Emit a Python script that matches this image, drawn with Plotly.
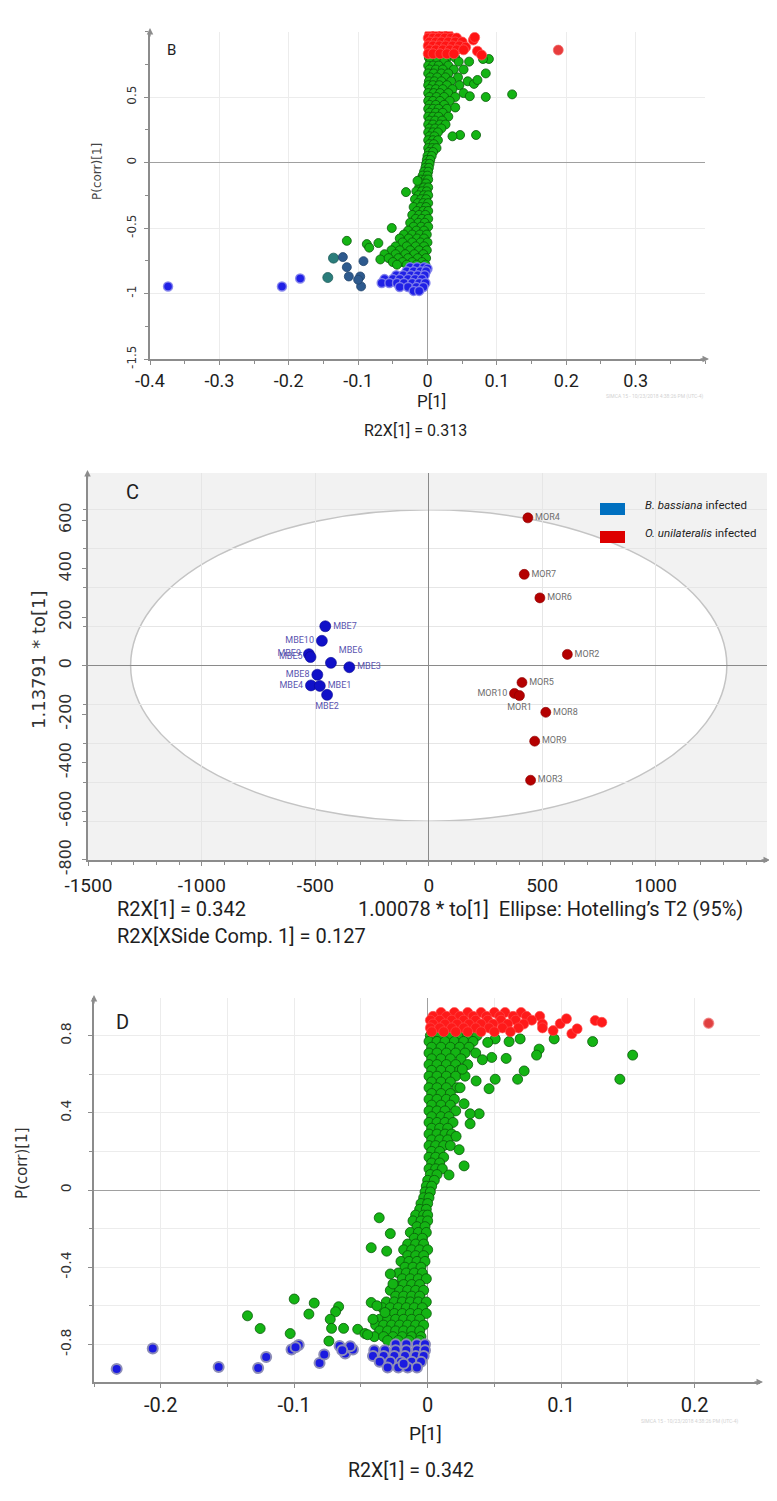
import plotly.graph_objects as go

# The page body adds an 8px margin, so the figure is sized to fill the rest of the window
OFF = 8
W, H = 777 - OFF, 1501 - OFF
def fx(px): return (px - OFF) / W
def fy(py): return 1 - (py - OFF) / H

# ---------------- Panel B data: (P[1], P(corr)[1]) ----------------
b_green = [
 (0.002,0.80),(0.010,0.80),(0.018,0.80),(0.028,0.80),(0.040,0.80),
 (0.004,0.77),(0.014,0.77),(0.024,0.77),(0.045,0.77),(0.060,0.77),
 (0.001,0.74),(0.008,0.74),(0.016,0.74),(0.030,0.74),
 (0.003,0.71),(0.012,0.71),(0.022,0.71),(0.038,0.71),(0.052,0.71),
 (0.001,0.68),(0.009,0.68),(0.020,0.68),(0.030,0.68),
 (0.004,0.65),(0.014,0.65),(0.026,0.65),(0.044,0.65),
 (0.002,0.62),(0.010,0.62),(0.020,0.62),(0.034,0.62),(0.058,0.62),
 (0.001,0.59),(0.008,0.59),(0.017,0.59),(0.028,0.59),(0.046,0.59),
 (0.003,0.56),(0.012,0.56),(0.022,0.56),(0.036,0.56),
 (0.001,0.53),(0.009,0.53),(0.018,0.53),(0.030,0.53),(0.052,0.53),
 (0.003,0.50),(0.013,0.50),(0.024,0.50),(0.040,0.50),
 (0.001,0.47),(0.008,0.47),(0.018,0.47),(0.032,0.47),
 (0.003,0.44),(0.012,0.44),(0.024,0.44),
 (0.001,0.41),(0.008,0.41),(0.016,0.41),(0.028,0.41),
 (0.003,0.38),(0.012,0.38),(0.022,0.38),
 (0.001,0.35),(0.008,0.35),(0.016,0.35),(0.030,0.35),
 (0.003,0.32),(0.011,0.32),(0.021,0.32),
 (0.001,0.29),(0.008,0.29),(0.018,0.29),(0.026,0.29),
 (0.003,0.26),(0.011,0.26),(0.020,0.26),
 (0.001,0.23),(0.008,0.23),(0.015,0.23),
 (0.003,0.20),(0.010,0.20),
 (0.001,0.17),(0.008,0.17),(0.015,0.17),
 (0.003,0.14),(0.009,0.14),
 (0.001,0.11),(0.007,0.11),(0.013,0.11),
 (0.002,0.08),(0.008,0.08),
 (0.000,0.05),(0.006,0.05),
 (-0.001,0.02),(0.004,0.02),
 (-0.002,-0.01),(0.003,-0.01),
 (-0.003,-0.04),(0.002,-0.04),
 (-0.005,-0.07),(0.001,-0.07),
 (-0.007,-0.10),(0.000,-0.10),
 (-0.010,-0.13),(-0.003,-0.13),(0.001,-0.13),
 (-0.008,-0.16),(-0.002,-0.16),
 (-0.012,-0.19),(-0.005,-0.19),(0.001,-0.19),
 (-0.016,-0.22),(-0.008,-0.22),(-0.001,-0.22),
 (-0.013,-0.25),(-0.005,-0.25),(0.001,-0.25),
 (-0.018,-0.28),(-0.009,-0.28),(-0.002,-0.28),
 (-0.014,-0.31),(-0.006,-0.31),(0.001,-0.31),
 (-0.020,-0.34),(-0.010,-0.34),(-0.002,-0.34),
 (-0.015,-0.37),(-0.006,-0.37),(0.001,-0.37),
 (-0.022,-0.40),(-0.012,-0.40),(-0.003,-0.40),
 (-0.017,-0.43),(-0.008,-0.43),(0.001,-0.43),
 (-0.025,-0.46),(-0.013,-0.46),(-0.004,-0.46),
 (-0.020,-0.49),(-0.009,-0.49),(0.001,-0.49),
 (-0.028,-0.52),(-0.016,-0.52),(-0.005,-0.52),
 (-0.034,-0.55),(-0.022,-0.55),(-0.011,-0.55),(-0.001,-0.55),
 (-0.040,-0.58),(-0.027,-0.58),(-0.015,-0.58),(-0.005,-0.58),
 (-0.036,-0.61),(-0.022,-0.61),(-0.010,-0.61),(0.000,-0.61),
 (-0.046,-0.64),(-0.030,-0.64),(-0.017,-0.64),(-0.005,-0.64),
 (-0.052,-0.67),(-0.040,-0.67),(-0.025,-0.67),(-0.012,-0.67),(-0.001,-0.67),
 (-0.062,-0.70),(-0.046,-0.70),(-0.032,-0.70),(-0.019,-0.70),(-0.006,-0.70),
 (-0.068,-0.74),(-0.056,-0.73),(-0.042,-0.73),(-0.028,-0.73),(-0.014,-0.73),(-0.002,-0.73),
 (-0.050,-0.76),(-0.036,-0.76),(-0.022,-0.76),(-0.008,-0.76),
 (-0.044,-0.78),(-0.030,-0.78),(-0.016,-0.78),(-0.003,-0.78),
 (0.0885,0.79),(0.080,0.79),(0.084,0.68),(0.122,0.52),(0.084,0.50),(0.061,0.506),
 (0.067,0.60),(0.072,0.63),(0.047,0.21),(0.070,0.21),(0.036,0.20),(0.040,0.42),
 (-0.1163,-0.598),(-0.0875,-0.623),(-0.084,-0.65),(-0.0708,-0.615),(-0.0515,-0.50),
 (-0.031,-0.226),(-0.0144,-0.14),
]
b_red = [
 (0.003,0.98),(0.012,0.98),(0.022,0.98),(0.030,0.98),
 (0.001,0.95),(0.008,0.95),(0.016,0.95),(0.025,0.95),(0.034,0.95),(0.042,0.95),
 (0.003,0.92),(0.012,0.92),(0.020,0.92),(0.030,0.92),(0.040,0.92),(0.050,0.92),(0.066,0.935),
 (0.001,0.89),(0.008,0.89),(0.017,0.89),(0.026,0.89),(0.036,0.89),(0.046,0.89),(0.055,0.88),
 (0.003,0.86),(0.012,0.86),(0.022,0.86),(0.032,0.86),(0.042,0.86),(0.052,0.86),(0.072,0.85),
 (0.001,0.83),(0.008,0.83),(0.018,0.83),(0.028,0.83),(0.038,0.83),(0.078,0.82),
 (0.068,0.955),
]
b_red_far = [(0.1885, 0.858)]
b_blue = [
 (-0.374,-0.946),(-0.2098,-0.946),(-0.1835,-0.885),
 (-0.025,-0.80),(-0.015,-0.80),(-0.005,-0.80),(0.000,-0.81),
 (-0.030,-0.83),(-0.020,-0.83),(-0.010,-0.83),(-0.002,-0.83),
 (-0.045,-0.86),(-0.035,-0.86),(-0.024,-0.86),(-0.014,-0.86),(-0.004,-0.86),
 (-0.062,-0.89),(-0.050,-0.89),(-0.040,-0.89),(-0.028,-0.89),(-0.018,-0.89),(-0.008,-0.89),
 (-0.066,-0.92),(-0.055,-0.92),(-0.044,-0.92),(-0.034,-0.92),(-0.022,-0.92),(-0.012,-0.92),(-0.003,-0.92),
 (-0.040,-0.95),(-0.028,-0.95),(-0.016,-0.95),(-0.006,-0.95),
 (-0.020,-0.98),(-0.012,-0.98),
]
b_teal = [(-0.1437,-0.878),(-0.1355,-0.730)]
b_slate = [(-0.122,-0.722),(-0.1163,-0.799),(-0.1134,-0.870),(-0.097,-0.870),
           (-0.0923,-0.753),(-0.0957,-0.946),(-0.100,-0.895)]
b_xticks = [-0.4,-0.3,-0.2,-0.1,0,0.1,0.2,0.3]
b_xticktext = ["-0.4","-0.3","-0.2","-0.1","0","0.1","0.2","0.3"]
b_yticks = [-1.5,-1,-0.5,0,0.5]
b_yticktext = ["-1.5","-1","-0.5","0","0.5"]

# ---------------- Panel C data: scores ----------------
c_bb_names = ["MBE7","MBE10","MBE9","MBE5","MBE6","MBE3","MBE8","MBE4","MBE1","MBE2"]
c_bb_x = [-456,-471,-528,-521,-431,-350,-491,-519,-480,-448]
c_bb_y = [162,102,47,35,11,-7,-38,-82,-84,-121]
c_ou_names = ["MOR4","MOR7","MOR6","MOR2","MOR5","MOR10","MOR1","MOR8","MOR9","MOR3"]
c_ou_x = [437,421,490,611,411,378,400,516,467,449]
c_ou_y = [609,376,279,46,-70,-115,-124,-193,-312,-473]
c_ellipse_a = 1314
c_ellipse_b = 642
c_xticks = [-1500,-1000,-500,0,500,1000]
c_xticktext = ["-1500","-1000","-500","0","500","1000"]
c_yticks = [-800,-600,-400,-200,0,200,400,600]
c_yticktext = ["-800","-600","-400","-200","0","200","400","600"]
c_groups = ["B. bassiana", "O. unilateralis"]

# ---------------- Panel D data ----------------
d_green = [
 (0.002,0.80),(0.009,0.80),(0.016,0.80),(0.023,0.80),(0.030,0.80),(0.037,0.80),
 (0.001,0.77),(0.007,0.77),(0.013,0.77),(0.020,0.77),(0.027,0.77),(0.034,0.77),
 (0.003,0.74),(0.010,0.74),(0.017,0.74),(0.024,0.74),(0.031,0.74),
 (0.001,0.71),(0.007,0.71),(0.014,0.71),(0.021,0.71),(0.028,0.71),(0.036,0.71),
 (0.003,0.68),(0.010,0.68),(0.017,0.68),(0.025,0.68),
 (0.001,0.65),(0.007,0.65),(0.014,0.65),(0.021,0.65),(0.030,0.65),
 (0.003,0.62),(0.010,0.62),(0.017,0.62),(0.024,0.62),
 (0.001,0.59),(0.007,0.59),(0.014,0.59),(0.021,0.59),(0.028,0.59),
 (0.003,0.56),(0.010,0.56),(0.017,0.56),
 (0.001,0.53),(0.007,0.53),(0.014,0.53),(0.022,0.53),
 (0.003,0.50),(0.010,0.50),(0.017,0.50),
 (0.001,0.47),(0.007,0.47),(0.014,0.47),(0.020,0.47),
 (0.003,0.44),(0.010,0.44),(0.017,0.44),
 (0.001,0.41),(0.007,0.41),(0.013,0.41),(0.021,0.41),
 (0.003,0.38),(0.010,0.38),(0.016,0.38),
 (0.001,0.35),(0.007,0.35),(0.013,0.35),(0.019,0.35),
 (0.003,0.32),(0.009,0.32),(0.015,0.32),
 (0.001,0.29),(0.007,0.29),(0.013,0.29),(0.018,0.29),
 (0.003,0.26),(0.009,0.26),(0.015,0.26),
 (0.001,0.23),(0.006,0.23),(0.012,0.23),(0.017,0.23),
 (0.003,0.20),(0.009,0.20),
 (0.001,0.17),(0.006,0.17),(0.012,0.17),
 (0.003,0.14),(0.009,0.14),
 (0.001,0.11),(0.006,0.11),(0.011,0.11),
 (0.002,0.08),(0.007,0.08),
 (0.000,0.05),(0.005,0.05),
 (-0.001,0.02),(0.003,0.02),
 (-0.002,-0.01),(0.002,-0.01),
 (-0.003,-0.04),(0.001,-0.04),
 (-0.005,-0.07),(0.000,-0.07),
 (-0.006,-0.10),(-0.001,-0.10),
 (-0.009,-0.13),(-0.003,-0.13),(0.000,-0.13),
 (-0.011,-0.16),(-0.005,-0.16),(0.000,-0.16),
 (-0.008,-0.19),(-0.002,-0.19),
 (-0.013,-0.22),(-0.007,-0.22),(-0.001,-0.22),
 (-0.010,-0.25),(-0.004,-0.25),
 (-0.015,-0.28),(-0.009,-0.28),(-0.003,-0.28),
 (-0.018,-0.31),(-0.012,-0.31),(-0.006,-0.31),(0.000,-0.31),
 (-0.015,-0.34),(-0.009,-0.34),(-0.003,-0.34),
 (-0.020,-0.37),(-0.014,-0.37),(-0.008,-0.37),(-0.002,-0.37),
 (-0.017,-0.40),(-0.011,-0.40),(-0.005,-0.40),
 (-0.022,-0.43),(-0.016,-0.43),(-0.010,-0.43),(-0.004,-0.43),
 (-0.019,-0.46),(-0.013,-0.46),(-0.007,-0.46),(-0.001,-0.46),
 (-0.025,-0.49),(-0.018,-0.49),(-0.012,-0.49),(-0.006,-0.49),
 (-0.028,-0.52),(-0.021,-0.52),(-0.015,-0.52),(-0.009,-0.52),(-0.003,-0.52),
 (-0.024,-0.55),(-0.018,-0.55),(-0.012,-0.55),(-0.006,-0.55),
 (-0.031,-0.58),(-0.025,-0.58),(-0.019,-0.58),(-0.013,-0.58),(-0.007,-0.58),(-0.001,-0.58),
 (-0.034,-0.61),(-0.028,-0.61),(-0.022,-0.61),(-0.016,-0.61),(-0.010,-0.61),(-0.004,-0.61),
 (-0.031,-0.64),(-0.025,-0.64),(-0.019,-0.64),(-0.013,-0.64),(-0.007,-0.64),(-0.001,-0.64),
 (-0.036,-0.67),(-0.030,-0.67),(-0.024,-0.67),(-0.018,-0.67),(-0.012,-0.67),(-0.006,-0.67),
 (-0.039,-0.70),(-0.033,-0.70),(-0.027,-0.70),(-0.021,-0.70),(-0.015,-0.70),(-0.009,-0.70),(-0.003,-0.70),
 (-0.036,-0.73),(-0.030,-0.73),(-0.024,-0.73),(-0.018,-0.73),(-0.012,-0.73),(-0.006,-0.73),
 (-0.040,-0.76),(-0.033,-0.76),(-0.026,-0.76),(-0.019,-0.76),(-0.012,-0.76),(-0.005,-0.76),
 (-0.030,-0.78),(-0.022,-0.78),(-0.014,-0.78),(-0.006,-0.78),
 (-0.135,-0.652),(-0.1255,-0.718),(-0.100,-0.565),(-0.085,-0.586),(-0.089,-0.643),
 (-0.103,-0.744),(-0.074,-0.783),(-0.0667,-0.605),(-0.069,-0.631),(-0.073,-0.670),
 (-0.072,-0.717),(-0.063,-0.717),(-0.0524,-0.722),(-0.047,-0.744),(-0.0423,-0.583),
 (-0.0363,-0.144),(-0.0423,-0.299),(-0.0307,-0.317),(-0.028,-0.226),(-0.028,-0.435),
 (-0.026,-0.487),(-0.041,-0.67),(-0.032,-0.635),(-0.038,-0.60),(-0.045,-0.75),
 (0.1536,0.699),(0.144,0.574),(0.1236,0.769),(0.0948,0.783),(0.0835,0.730),
 (0.0816,0.699),(0.0723,0.617),(0.0674,0.574),(0.0693,0.783),(0.061,0.769),
 (0.0588,0.682),(0.0506,0.574),(0.046,0.525),(0.048,0.687),(0.041,0.675),
 (0.0363,0.565),(0.0386,0.395),(0.0318,0.395),(0.0318,0.343),(0.0273,0.447),
 (0.0273,0.125),(0.0236,0.209),(0.0213,0.278),(0.016,0.078),(0.0243,0.530),
 (0.026,0.626),(0.0506,0.783),(0.045,0.765),
]
d_red = [
 (0.010,0.92),(0.020,0.92),(0.030,0.92),(0.040,0.92),(0.050,0.92),(0.058,0.92),(0.070,0.92),
 (0.004,0.90),(0.014,0.90),(0.024,0.90),(0.034,0.90),(0.044,0.90),(0.054,0.90),(0.064,0.90),(0.074,0.90),(0.084,0.90),
 (0.002,0.88),(0.009,0.88),(0.018,0.88),(0.027,0.88),(0.036,0.88),(0.045,0.88),(0.055,0.88),(0.066,0.88),(0.078,0.88),
 (0.004,0.86),(0.013,0.86),(0.022,0.86),(0.031,0.86),(0.040,0.86),(0.049,0.86),(0.060,0.86),(0.072,0.86),(0.086,0.86),
 (0.002,0.84),(0.009,0.84),(0.018,0.84),(0.027,0.84),(0.036,0.84),(0.046,0.84),(0.056,0.84),(0.068,0.84),
 (0.003,0.82),(0.012,0.82),(0.021,0.82),(0.030,0.82),(0.040,0.82),(0.050,0.82),(0.062,0.82),
 (0.094,0.826),(0.0993,0.862),(0.104,0.887),(0.108,0.81),(0.1255,0.878),(0.1305,0.869),
 (0.112,0.835),(0.086,0.84),
]
d_red_far = [(0.2105, 0.864)]
d_blue = [
 (-0.233,-0.927),(-0.206,-0.821),(-0.1566,-0.917),(-0.127,-0.923),(-0.121,-0.866),
 (-0.102,-0.826),(-0.0966,-0.803),(-0.099,-0.815),(-0.081,-0.896),(-0.0775,-0.852),
 (-0.066,-0.809),(-0.0618,-0.847),(-0.056,-0.826),(-0.058,-0.81),(-0.064,-0.83),
 (-0.024,-0.80),(-0.016,-0.80),(-0.008,-0.80),(-0.002,-0.80),
 (-0.040,-0.83),(-0.032,-0.83),(-0.024,-0.83),(-0.016,-0.83),(-0.008,-0.83),(-0.002,-0.83),
 (-0.041,-0.86),(-0.033,-0.86),(-0.025,-0.86),(-0.017,-0.86),(-0.009,-0.86),(-0.003,-0.86),
 (-0.036,-0.89),(-0.028,-0.89),(-0.020,-0.89),(-0.012,-0.89),(-0.005,-0.89),
 (-0.030,-0.92),(-0.022,-0.92),(-0.015,-0.92),(-0.008,-0.92),(-0.018,-0.90),
]
d_xticks = [-0.2,-0.1,0,0.1,0.2]
d_xticktext = ["-0.2","-0.1","0","0.1","0.2"]
d_yticks = [-0.8,-0.4,0,0.4,0.8]
d_yticktext = ["-0.8","-0.4","0","0.4","0.8"]

def xs(pts): return [p[0] for p in pts]
def ys(pts): return [p[1] for p in pts]

GREEN = dict(color="#14b414", line=dict(color="#0a5a0a", width=0.8))
fig = go.Figure()

# ---- B traces ----
fig.add_trace(go.Scatter(x=xs(b_green), y=ys(b_green), mode="markers", xaxis="x", yaxis="y",
    marker=dict(size=9, **GREEN)))
fig.add_trace(go.Scatter(x=xs(b_teal), y=ys(b_teal), mode="markers", xaxis="x", yaxis="y",
    marker=dict(size=10, color="#2b7d7b", line=dict(color="#1f5e5c", width=0.8))))
fig.add_trace(go.Scatter(x=xs(b_slate), y=ys(b_slate), mode="markers", xaxis="x", yaxis="y",
    marker=dict(size=9, color="#2e5a8e", line=dict(color="#23466e", width=0.8))))
fig.add_trace(go.Scatter(x=xs(b_red), y=ys(b_red), mode="markers", xaxis="x", yaxis="y",
    marker=dict(size=10, color="#ff1414", line=dict(color="rgba(255,90,90,0.7)", width=1))))
fig.add_trace(go.Scatter(x=xs(b_red_far), y=ys(b_red_far), mode="markers", xaxis="x", yaxis="y",
    marker=dict(size=10, color="#e83c3c", line=dict(color="rgba(240,110,110,0.7)", width=1))))
fig.add_trace(go.Scatter(x=xs(b_blue), y=ys(b_blue), mode="markers", xaxis="x", yaxis="y",
    marker=dict(size=9, color="#2020e6", line=dict(color="rgba(130,130,235,0.9)", width=1.5))))

# ---- C traces ----
fig.add_trace(go.Scatter(x=c_bb_x, y=c_bb_y, mode="markers+text", xaxis="x2", yaxis="y2",
    text=c_bb_names,
    textposition=["middle right","middle left","middle left","middle left","top right",
                  "middle right","middle left","middle left","middle right","bottom center"],
    textfont=dict(family="Roboto, sans-serif", size=9, color="#5a55b0"),
    marker=dict(size=11, color="#1010c8", line=dict(color="#0a0a90", width=0.6))))
fig.add_trace(go.Scatter(x=c_ou_x, y=c_ou_y, mode="markers+text", xaxis="x2", yaxis="y2",
    text=c_ou_names,
    textposition=["middle right","middle right","middle right","middle right","middle right",
                  "middle left","bottom center","middle right","middle right","middle right"],
    textfont=dict(family="Roboto, sans-serif", size=9, color="#6e6e6e"),
    marker=dict(size=10, color="#b40000", line=dict(color="#8a0000", width=0.6))))

# ---- D traces ----
fig.add_trace(go.Scatter(x=xs(d_green), y=ys(d_green), mode="markers", xaxis="x3", yaxis="y3",
    marker=dict(size=10, **GREEN)))
fig.add_trace(go.Scatter(x=xs(d_red), y=ys(d_red), mode="markers", xaxis="x3", yaxis="y3",
    marker=dict(size=10, color="#ff1a1a", line=dict(color="rgba(255,80,80,0.6)", width=1))))
fig.add_trace(go.Scatter(x=xs(d_red_far), y=ys(d_red_far), mode="markers", xaxis="x3", yaxis="y3",
    marker=dict(size=10, color="#e04040", line=dict(color="rgba(240,120,120,0.7)", width=1.5))))
fig.add_trace(go.Scatter(x=xs(d_blue), y=ys(d_blue), mode="markers", xaxis="x3", yaxis="y3",
    marker=dict(size=10, color="#1b1be0", line=dict(color="#8d8db8", width=2))))

AXC = "#8c8c8c"
GRID = "#ececec"
XFONT = dict(family="Roboto, Liberation Sans, sans-serif", color="#1e1e1e")
YFONT = dict(family="DejaVu Sans, sans-serif", color="#333333")

def xax(domain, anchor, rng, tv, tt, size, minor, standoff, grid_minor=False):
    return dict(domain=domain, anchor=anchor, range=rng, tickmode="array", tickvals=tv, ticktext=tt,
                tickfont=dict(size=size, **XFONT), showgrid=True, gridcolor=GRID, gridwidth=1,
                zeroline=True, zerolinecolor="#a0a0a0", zerolinewidth=1.2, automargin=False,
                showline=True, linecolor=AXC, linewidth=1.5, ticks="outside", ticklen=4,
                tickcolor=AXC, ticklabelstandoff=standoff,
                minor=dict(tickmode="linear", tick0=0, dtick=minor, ticks="outside", ticklen=3,
                           tickcolor=AXC, showgrid=grid_minor, gridcolor=GRID),
                fixedrange=True)

def yax(domain, anchor, rng, tv, tt, size, minor, standoff, grid_major=True, grid_minor=False):
    return dict(domain=domain, anchor=anchor, range=rng, tickmode="array", tickvals=tv, ticktext=tt,
                tickangle=-90, tickfont=dict(size=size, **YFONT), showgrid=grid_major,
                gridcolor=GRID, gridwidth=1, automargin=False,
                zeroline=True, zerolinecolor="#a0a0a0", zerolinewidth=1.2,
                showline=True, linecolor=AXC, linewidth=1.5, ticks="outside", ticklen=4,
                tickcolor=AXC, ticklabelstandoff=standoff,
                minor=dict(tickmode="linear", tick0=0, dtick=minor, ticks="outside", ticklen=3,
                           tickcolor=AXC, showgrid=grid_minor, gridcolor=GRID),
                fixedrange=True)

layout = dict(
    width=W, height=H, autosize=False, showlegend=False,
    margin=dict(l=0, r=0, t=0, b=0, pad=0, autoexpand=False),
    paper_bgcolor="white", plot_bgcolor="white",
    xaxis=xax([fx(150), fx(705)], "y", [-0.4, 0.4], b_xticks, b_xticktext, 18, 0.05, 1),
    yaxis=yax([fy(359), fy(31.5)], "x", [-1.5, 1.0], b_yticks, b_yticktext, 12, 0.25, 3),
    xaxis2=xax([fx(87.5), fx(767)], "y2", [-1504, 1491], c_xticks, c_xticktext, 19, 100, 3),
    yaxis2=yax([fy(860), fy(473)], "x2", [-802, 794], c_yticks, c_yticktext, 16, 160.5, 4,
               grid_major=False, grid_minor=True),
    xaxis3=xax([fx(94), fx(760)], "y3", [-0.25, 0.249], d_xticks, d_xticktext, 20, 0.05, 0,
               grid_minor=True),
    yaxis3=yax([fy(1382), fy(998)], "x3", [-0.995, 0.995], d_yticks, d_yticktext, 14, 0.2, 12,
               grid_minor=True),
)
fig.update_layout(**layout)
fig.update_layout(yaxis2=dict(minor=dict(gridcolor="#e6e6e6")),
                  xaxis2=dict(gridcolor="#e6e6e6", zerolinecolor="#8a8a8a"),
                  yaxis2_zerolinecolor="#8a8a8a")

# Panel C background and Hotelling ellipse
fig.add_shape(type="rect", xref="x2 domain", yref="y2 domain", x0=0, x1=1, y0=0, y1=1,
              fillcolor="#f2f2f2", line=dict(width=0), layer="below")
fig.add_shape(type="circle", xref="x2", yref="y2", x0=-c_ellipse_a, x1=c_ellipse_a,
              y0=-c_ellipse_b, y1=c_ellipse_b, fillcolor="white",
              line=dict(color="#c4c4c4", width=1.5), layer="below")
# legend swatches
fig.add_shape(type="rect", xref="paper", yref="paper", x0=fx(600), x1=fx(625), y0=fy(515), y1=fy(503),
              fillcolor="#0070c0", line=dict(width=0))
fig.add_shape(type="rect", xref="paper", yref="paper", x0=fx(600), x1=fx(625), y0=fy(543), y1=fy(531),
              fillcolor="#dd0000", line=dict(width=0))

NARROW = "Roboto, Liberation Sans, sans-serif"
def note(text, x, y, size, family=NARROW, color="#1e1e1e", angle=0, xanchor="center"):
    fig.add_annotation(text=text, x=fx(x), y=fy(y), xref="paper", yref="paper", showarrow=False,
                       textangle=angle, xanchor=xanchor, yanchor="middle",
                       font=dict(family=family, size=size, color=color))

def arrow(x, y, ax, ay):
    fig.add_annotation(text="", x=fx(x), y=fy(y), xref="paper", yref="paper", showarrow=True,
                       ax=ax, ay=ay, arrowhead=2, arrowsize=1, arrowwidth=1.3, arrowcolor=AXC)

# Panel B texts
note("B", 171, 50, 15)
note("P(corr)[1]", 97, 172, 12, family="DejaVu Sans, sans-serif", color="#444444", angle=-90)
note("P[1]", 432, 401, 17)
note("R2X[1] = 0.313", 415, 430, 16)
note("SIMCA 15 - 10/23/2018 4:38:26 PM (UTC-4)", 655, 396, 5, color="#d2d2d2")
arrow(150, 28, 0, 10)
arrow(709, 359, -10, 0)

# Panel C texts
note("C", 132, 492, 20)
note("1.13791 * to[1]", 38, 660, 18, family="DejaVu Sans, sans-serif", color="#333333", angle=-90)
note("R2X[1] = 0.342", 115, 909, 20, xanchor="left")
note("1.00078 * to[1]\u00a0\u00a0Ellipse: Hotelling\u2019s T2 (95%)", 356, 909, 20, xanchor="left")
note("R2X[XSide Comp. 1] = 0.127", 115, 936, 20, xanchor="left")
note("<i>%s</i> infected" % c_groups[0], 643, 505, 11.5, xanchor="left")
note("<i>%s</i> infected" % c_groups[1], 643, 533, 11.5, xanchor="left")
arrow(87.5, 470, 0, 10)
arrow(770, 860, -10, 0)

# Panel D texts
note("D", 122, 1022, 20)
note("P(corr)[1]", 22, 1163, 15, family="DejaVu Sans, sans-serif", color="#333333", angle=-90)
note("P[1]", 425, 1433, 19)
note("R2X[1] = 0.342", 411, 1470, 19.5)
note("SIMCA 15 - 10/23/2018 4:38:26 PM (UTC-4)", 690, 1421, 5, color="#d2d2d2")
arrow(94, 995, 0, 10)
arrow(763, 1382, -10, 0)

fig.write_html("out.html")
